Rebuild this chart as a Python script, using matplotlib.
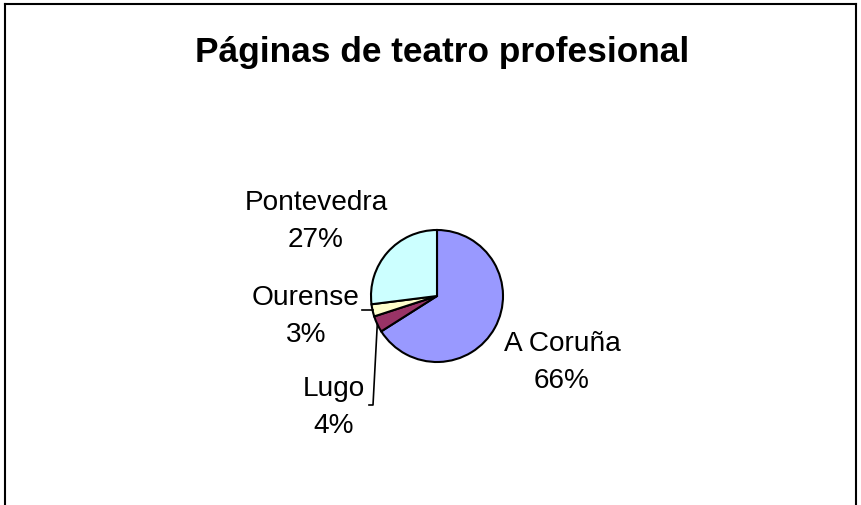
import numpy as np
import matplotlib
matplotlib.use("Agg")
import matplotlib.pyplot as plt
from matplotlib.lines import Line2D

# data
provincias = ["A Coruña", "Lugo", "Ourense", "Pontevedra"]
valores = [66, 4, 3, 27]
colores = ["#9999FF", "#993366", "#FFFFCC", "#CCFFFF"]

W, H = 861, 506
CX, CY, R = 437, 297, 66  # pie centre / radius in pixels


def px(x, y):
    # pixel coords -> data coords (radius 1 = R pixels)
    return (x - CX) / R, (CY - y) / R


plt.rcParams['font.family'] = ['Liberation Sans', 'DejaVu Sans']
fig = plt.figure(figsize=(W / 100, H / 100), dpi=100)
ax = fig.add_axes([0, 0, 1, 1])

wedges, _ = ax.pie(valores, colors=colores, startangle=90, counterclock=False,
                   radius=1, center=(0, 0), frame=True,
                   wedgeprops=dict(edgecolor='black', linewidth=1.5))
ax.set_xlim(-CX / R, (W - CX) / R)
ax.set_ylim(-(H - CY) / R, CY / R)
ax.set_aspect('auto')
ax.axis('off')

# label baselines (pixels): name line, percent line
pos = {
    "A Coruña": (562, 351),
    "Lugo": (334, 396),
    "Ourense": (306, 305),
    "Pontevedra": (316, 210),
}
for nombre, v in zip(provincias, valores):
    x, y = pos[nombre]
    ax.text(*px(x, y), nombre, ha='center', va='baseline', fontsize=20.2)
    ax.text(*px(x, y + 37), f"{v}%", ha='center', va='baseline', fontsize=20.2)

# leader lines for the small slices
total = sum(valores)
acum = np.cumsum([0] + valores)
def anchor(i):
    mid = (acum[i] + acum[i + 1]) / 2 / total * 360
    ang = np.deg2rad(90 - mid)
    return np.cos(ang), np.sin(ang)

al = anchor(1)
ox, oy = px(373, 406)
ax.plot([al[0], ox, px(369, 406)[0]], [al[1], oy, oy], color='black', lw=1.2)
ao = anchor(2)
ax.plot([ao[0], px(362, 0)[0]], [ao[1], ao[1]], color='black', lw=1.2)

# title
ax.text(*px(442, 62), "Páginas de teatro profesional", ha='center', va='baseline',
        fontsize=25.4, fontweight='bold')

# chart border (bottom edge lies outside the picture)
for xs, ys in [([5, 5], [5, H]), ([5, 856], [5, 5]), ([856, 856], [5, H])]:
    fig.add_artist(Line2D([x / W for x in xs], [1 - y / H for y in ys],
                          color='black', lw=1.5))

fig.savefig("out.png", dpi=100, facecolor='white')
